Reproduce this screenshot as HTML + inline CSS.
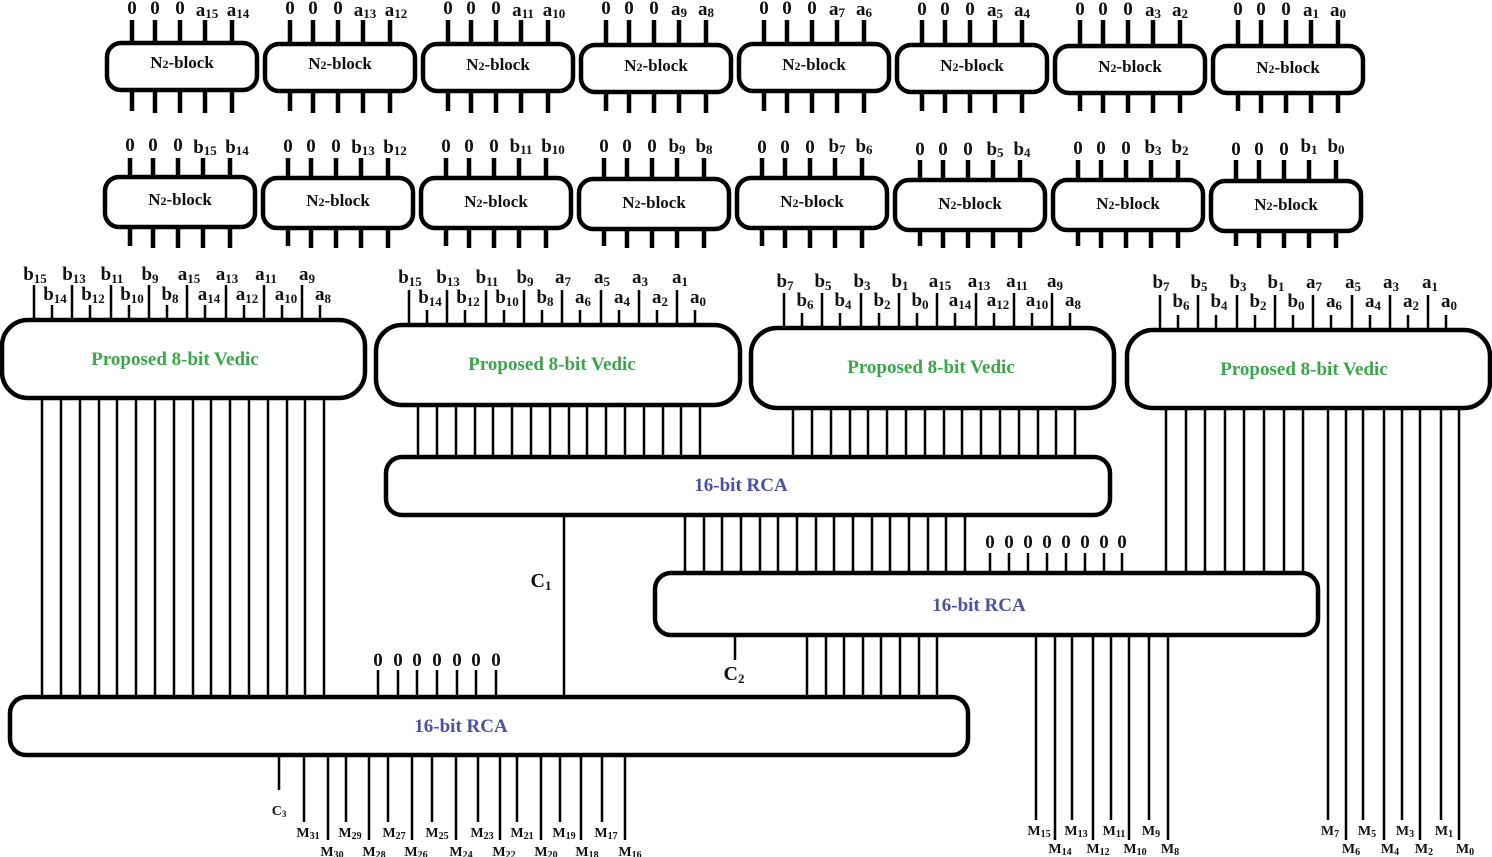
<!DOCTYPE html>
<html><head><meta charset="utf-8"><style>
html,body{margin:0;padding:0;background:#fff;}
svg{display:block;}
text{font-family:"Liberation Serif",serif;font-weight:bold;fill:#111;}
.g{fill:#3aa64a;font-size:19px;}
.bl{fill:#4a50a8;font-size:19px;}
.n{font-size:17px;}
.l{font-size:19px;text-anchor:middle;}
.m{font-size:14px;text-anchor:middle;}
</style></head><body>
<svg width="1492" height="857" viewBox="0 0 1492 857" xmlns="http://www.w3.org/2000/svg">
<g fill="none" stroke="#000">
<!-- N2 row 1 -->
<g stroke-width="4.5">
<rect x="107" y="43" width="150" height="47" rx="14"/><rect x="265" y="44" width="150" height="47" rx="14"/><rect x="423" y="44" width="150" height="47" rx="14"/><rect x="581" y="45" width="150" height="47" rx="14"/><rect x="739" y="44" width="150" height="47" rx="14"/><rect x="897" y="45" width="150" height="47" rx="14"/><rect x="1055" y="46" width="150" height="47" rx="14"/><rect x="1213" y="46" width="150" height="47" rx="14"/>
<rect x="105" y="177" width="150" height="50" rx="14"/><rect x="263" y="178" width="150" height="50" rx="14"/><rect x="421" y="178" width="150" height="50" rx="14"/><rect x="579" y="179" width="150" height="50" rx="14"/><rect x="737" y="178" width="150" height="50" rx="14"/><rect x="895" y="180" width="150" height="50" rx="14"/><rect x="1053" y="180" width="150" height="50" rx="14"/><rect x="1211" y="181" width="150" height="50" rx="14"/>
</g>
<g stroke-width="4.5">
<path d="M132 20V43M155 20V43M180 20V43M205 20V43M232 20V43 M290 20V44M313 20V44M338 20V44M363 20V44M390 20V44 M448 20V44M471 20V44M496 20V44M521 20V44M548 20V44 M606 20V45M629 20V45M654 20V45M679 20V45M706 20V45 M764 20V44M787 20V44M812 20V44M837 20V44M864 20V44 M922 20V45M945 20V45M970 20V45M995 20V45M1022 20V45 M1080 20V46M1103 20V46M1128 20V46M1153 20V46M1180 20V46 M1238 20V46M1261 20V46M1286 20V46M1311 20V46M1338 20V46"/>
<path d="M132 90V111M155 90V113M180 90V113M205 90V113M232 90V113 M290 91V111M313 91V113M338 91V113M363 91V113M390 91V113 M448 91V111M471 91V113M496 91V113M521 91V113M548 91V113 M606 92V111M629 92V113M654 92V113M679 92V113M706 92V113 M764 91V111M787 91V113M812 91V113M837 91V113M864 91V113 M922 92V111M945 92V113M970 92V113M995 92V113M1022 92V113 M1080 93V111M1103 93V113M1128 93V113M1153 93V113M1180 93V113 M1238 93V111M1261 93V113M1286 93V113M1311 93V113M1338 93V113"/>
<path d="M130 158V177M153 158V177M178 158V177M203 158V177M230 158V177 M288 158V178M311 158V178M336 158V178M361 158V178M388 158V178 M446 158V178M469 158V178M494 158V178M519 158V178M546 158V178 M604 158V179M627 158V179M652 158V179M677 158V179M704 158V179 M762 158V178M785 158V178M810 158V178M835 158V178M862 158V178 M920 160V180M943 160V180M968 160V180M993 160V180M1020 160V180 M1078 160V180M1101 160V180M1126 160V180M1151 160V180M1178 160V180 M1236 160V181M1259 160V181M1284 160V181M1309 160V181M1336 160V181"/>
<path d="M130 227V246M153 227V248M178 227V248M203 227V248M230 227V248 M288 228V246M311 228V248M336 228V248M361 228V248M388 228V248 M446 228V246M469 228V248M494 228V248M519 228V248M546 228V248 M604 229V246M627 229V248M652 229V248M677 229V248M704 229V248 M762 228V246M785 228V248M810 228V248M835 228V248M862 228V248 M920 230V246M943 230V248M968 230V248M993 230V248M1020 230V248 M1078 230V246M1101 230V248M1126 230V248M1151 230V248M1178 230V248 M1236 231V246M1259 231V248M1284 231V248M1309 231V248M1336 231V248"/>
</g>
<!-- Vedic blocks -->
<g stroke-width="4.5">
<rect x="2" y="320" width="363" height="78" rx="26"/>
<rect x="376" y="325" width="364" height="80" rx="26"/>
<rect x="751" y="328" width="363" height="80" rx="26"/>
<rect x="1127" y="330" width="363" height="78" rx="26"/>
<rect x="386" y="457" width="724" height="58" rx="16"/>
<rect x="655" y="573" width="663" height="62" rx="16"/>
<rect x="10" y="697" width="958" height="58" rx="16"/>
</g>
<g stroke-width="2.5">
<!-- vedic input pins -->
<path d="M34 285V320M72 285V320M111 285V320M149 285V320M187 285V320M226 285V320M264 285V320M302 285V320 M52 305V320M90 305V320M129 305V320M167 305V320M205 305V320M244 305V320M282 305V320M320 305V320"/>
<path d="M409 290V325M447 290V325M486 290V325M524 290V325M562 290V325M601 290V325M639 290V325M677 290V325 M427 310V325M465 310V325M504 310V325M542 310V325M580 310V325M619 310V325M657 310V325M695 310V325"/>
<path d="M784 293V328M822 293V328M861 293V328M899 293V328M937 293V328M976 293V328M1014 293V328M1052 293V328 M802 313V328M840 313V328M879 313V328M917 313V328M955 313V328M994 313V328M1032 313V328M1070 313V328"/>
<path d="M1160 295V330M1198 295V330M1237 295V330M1275 295V330M1313 295V330M1352 295V330M1390 295V330M1428 295V330 M1178 315V330M1216 315V330M1255 315V330M1293 315V330M1331 315V330M1370 315V330M1408 315V330M1446 315V330"/>
<!-- block1 outputs -->
<path d="M42 398V697M61 398V697M80 398V697M99 398V697M117 398V697M136 398V697M155 398V697M174 398V697M193 398V697M211 398V697M230 398V697M249 398V697M268 398V697M287 398V697M305 398V697M324 398V697"/>
<path d="M418 405V457M437 405V457M456 405V457M475 405V457M493 405V457M512 405V457M531 405V457M550 405V457M569 405V457M587 405V457M606 405V457M625 405V457M644 405V457M663 405V457M681 405V457M700 405V457"/>
<path d="M793 408V457M812 408V457M831 408V457M850 408V457M868 408V457M887 408V457M906 408V457M925 408V457M944 408V457M962 408V457M981 408V457M1000 408V457M1019 408V457M1038 408V457M1056 408V457M1075 408V457"/>
<path d="M1166 408V573M1186 408V573M1205 408V573M1225 408V573M1244 408V573M1264 408V573M1284 408V573M1303 408V573"/>
<path d="M1328 408V820M1346 408V840M1363 408V820M1384 408V840M1402 408V820M1420 408V840M1441 408V820M1459 408V840"/>
<path d="M685 515V573M704 515V573M722 515V573M741 515V573M760 515V573M778 515V573M797 515V573M816 515V573M834 515V573M853 515V573M872 515V573M890 515V573M909 515V573M928 515V573M946 515V573M965 515V573"/>
<path d="M990 553V573M1009 553V573M1028 553V573M1047 553V573M1066 553V573M1085 553V573M1104 553V573M1122 553V573"/>
<path d="M564 515V697M735 635V660"/>
<path d="M807 635V697M826 635V697M844 635V697M863 635V697M881 635V697M900 635V697M919 635V697M937 635V697"/>
<path d="M1036 635V820M1055 635V840M1072 635V820M1093 635V840M1111 635V820M1129 635V840M1149 635V820M1168 635V840"/>
<path d="M378 670V697M398 670V697M417 670V697M437 670V697M457 670V697M476 670V697M496 670V697"/>
<path d="M279 755V790M304 755V822M328 755V840M346 755V822M369 755V840M388 755V822M412 755V840M432 755V822M456 755V840M478 755V822M500 755V840M517 755V822M541 755V840M560 755V822M581 755V840M602 755V822M625 755V840"/>
</g>
</g>
<!-- N2 labels -->
<g class="n" text-anchor="middle">
<text x="182" y="68">N<tspan font-size="12">2</tspan>-block</text><text x="340" y="69">N<tspan font-size="12">2</tspan>-block</text><text x="498" y="70">N<tspan font-size="12">2</tspan>-block</text><text x="656" y="71">N<tspan font-size="12">2</tspan>-block</text><text x="814" y="70">N<tspan font-size="12">2</tspan>-block</text><text x="972" y="71">N<tspan font-size="12">2</tspan>-block</text><text x="1130" y="72">N<tspan font-size="12">2</tspan>-block</text><text x="1288" y="73">N<tspan font-size="12">2</tspan>-block</text>
<text x="180" y="205">N<tspan font-size="12">2</tspan>-block</text><text x="338" y="206">N<tspan font-size="12">2</tspan>-block</text><text x="496" y="207">N<tspan font-size="12">2</tspan>-block</text><text x="654" y="208">N<tspan font-size="12">2</tspan>-block</text><text x="812" y="207">N<tspan font-size="12">2</tspan>-block</text><text x="970" y="209">N<tspan font-size="12">2</tspan>-block</text><text x="1128" y="209">N<tspan font-size="12">2</tspan>-block</text><text x="1286" y="210">N<tspan font-size="12">2</tspan>-block</text>
</g>
<g class="l">
<text x="132" y="14">0</text><text x="155" y="14">0</text><text x="180" y="14">0</text><text x="207" y="16">a<tspan font-size="13" dy="2">15</tspan></text><text x="238" y="16">a<tspan font-size="13" dy="2">14</tspan></text>
<text x="290" y="14">0</text><text x="313" y="14">0</text><text x="338" y="14">0</text><text x="365" y="16">a<tspan font-size="13" dy="2">13</tspan></text><text x="396" y="16">a<tspan font-size="13" dy="2">12</tspan></text>
<text x="448" y="14">0</text><text x="471" y="14">0</text><text x="496" y="14">0</text><text x="523" y="16">a<tspan font-size="13" dy="2">11</tspan></text><text x="554" y="16">a<tspan font-size="13" dy="2">10</tspan></text>
<text x="606" y="14">0</text><text x="629" y="14">0</text><text x="654" y="14">0</text><text x="679" y="15">a<tspan font-size="13" dy="2">9</tspan></text><text x="706" y="15">a<tspan font-size="13" dy="2">8</tspan></text>
<text x="764" y="14">0</text><text x="787" y="14">0</text><text x="812" y="14">0</text><text x="837" y="15">a<tspan font-size="13" dy="2">7</tspan></text><text x="864" y="15">a<tspan font-size="13" dy="2">6</tspan></text>
<text x="922" y="15">0</text><text x="945" y="15">0</text><text x="970" y="15">0</text><text x="995" y="16">a<tspan font-size="13" dy="2">5</tspan></text><text x="1022" y="16">a<tspan font-size="13" dy="2">4</tspan></text>
<text x="1080" y="15">0</text><text x="1103" y="15">0</text><text x="1128" y="15">0</text><text x="1153" y="16">a<tspan font-size="13" dy="2">3</tspan></text><text x="1180" y="16">a<tspan font-size="13" dy="2">2</tspan></text>
<text x="1238" y="15">0</text><text x="1261" y="15">0</text><text x="1286" y="15">0</text><text x="1311" y="16">a<tspan font-size="13" dy="2">1</tspan></text><text x="1338" y="16">a<tspan font-size="13" dy="2">0</tspan></text>
<text x="130" y="151">0</text><text x="153" y="151">0</text><text x="178" y="151">0</text><text x="205" y="153">b<tspan font-size="13" dy="2">15</tspan></text><text x="237" y="153">b<tspan font-size="13" dy="2">14</tspan></text>
<text x="288" y="152">0</text><text x="311" y="152">0</text><text x="336" y="152">0</text><text x="363" y="153">b<tspan font-size="13" dy="2">13</tspan></text><text x="395" y="153">b<tspan font-size="13" dy="2">12</tspan></text>
<text x="446" y="152">0</text><text x="469" y="152">0</text><text x="494" y="152">0</text><text x="521" y="152">b<tspan font-size="13" dy="2">11</tspan></text><text x="553" y="152">b<tspan font-size="13" dy="2">10</tspan></text>
<text x="604" y="152">0</text><text x="627" y="152">0</text><text x="652" y="152">0</text><text x="677" y="152">b<tspan font-size="13" dy="2">9</tspan></text><text x="704" y="152">b<tspan font-size="13" dy="2">8</tspan></text>
<text x="762" y="153">0</text><text x="785" y="153">0</text><text x="810" y="153">0</text><text x="837" y="152">b<tspan font-size="13" dy="2">7</tspan></text><text x="864" y="152">b<tspan font-size="13" dy="2">6</tspan></text>
<text x="920" y="155">0</text><text x="943" y="155">0</text><text x="968" y="155">0</text><text x="995" y="155">b<tspan font-size="13" dy="2">5</tspan></text><text x="1022" y="155">b<tspan font-size="13" dy="2">4</tspan></text>
<text x="1078" y="154">0</text><text x="1101" y="154">0</text><text x="1126" y="154">0</text><text x="1153" y="153">b<tspan font-size="13" dy="2">3</tspan></text><text x="1180" y="153">b<tspan font-size="13" dy="2">2</tspan></text>
<text x="1236" y="155">0</text><text x="1259" y="155">0</text><text x="1284" y="155">0</text><text x="1309" y="152">b<tspan font-size="13" dy="2">1</tspan></text><text x="1336" y="152">b<tspan font-size="13" dy="2">0</tspan></text>
</g>
<!-- Vedic input labels -->
<g class="l">
<text x="35" y="280">b<tspan font-size="13" dy="3">15</tspan></text><text x="74" y="280">b<tspan font-size="13" dy="3">13</tspan></text><text x="112" y="280">b<tspan font-size="13" dy="3">11</tspan></text><text x="150" y="280">b<tspan font-size="13" dy="3">9</tspan></text><text x="189" y="280">a<tspan font-size="13" dy="3">15</tspan></text><text x="227" y="280">a<tspan font-size="13" dy="3">13</tspan></text><text x="266" y="280">a<tspan font-size="13" dy="3">11</tspan></text><text x="307" y="280">a<tspan font-size="13" dy="3">9</tspan></text>
<text x="55" y="300">b<tspan font-size="13" dy="3">14</tspan></text><text x="93" y="300">b<tspan font-size="13" dy="3">12</tspan></text><text x="132" y="300">b<tspan font-size="13" dy="3">10</tspan></text><text x="170" y="300">b<tspan font-size="13" dy="3">8</tspan></text><text x="209" y="300">a<tspan font-size="13" dy="3">14</tspan></text><text x="247" y="300">a<tspan font-size="13" dy="3">12</tspan></text><text x="286" y="300">a<tspan font-size="13" dy="3">10</tspan></text><text x="323" y="300">a<tspan font-size="13" dy="3">8</tspan></text>
<text x="410" y="283">b<tspan font-size="13" dy="3">15</tspan></text><text x="448" y="283">b<tspan font-size="13" dy="3">13</tspan></text><text x="487" y="283">b<tspan font-size="13" dy="3">11</tspan></text><text x="525" y="283">b<tspan font-size="13" dy="3">9</tspan></text><text x="563" y="283">a<tspan font-size="13" dy="3">7</tspan></text><text x="602" y="283">a<tspan font-size="13" dy="3">5</tspan></text><text x="640" y="283">a<tspan font-size="13" dy="3">3</tspan></text><text x="680" y="283">a<tspan font-size="13" dy="3">1</tspan></text>
<text x="430" y="303">b<tspan font-size="13" dy="3">14</tspan></text><text x="468" y="303">b<tspan font-size="13" dy="3">12</tspan></text><text x="507" y="303">b<tspan font-size="13" dy="3">10</tspan></text><text x="545" y="303">b<tspan font-size="13" dy="3">8</tspan></text><text x="583" y="303">a<tspan font-size="13" dy="3">6</tspan></text><text x="622" y="303">a<tspan font-size="13" dy="3">4</tspan></text><text x="660" y="303">a<tspan font-size="13" dy="3">2</tspan></text><text x="698" y="303">a<tspan font-size="13" dy="3">0</tspan></text>
<text x="785" y="287">b<tspan font-size="13" dy="3">7</tspan></text><text x="823" y="287">b<tspan font-size="13" dy="3">5</tspan></text><text x="862" y="287">b<tspan font-size="13" dy="3">3</tspan></text><text x="900" y="287">b<tspan font-size="13" dy="3">1</tspan></text><text x="940" y="287">a<tspan font-size="13" dy="3">15</tspan></text><text x="979" y="287">a<tspan font-size="13" dy="3">13</tspan></text><text x="1017" y="287">a<tspan font-size="13" dy="3">11</tspan></text><text x="1055" y="287">a<tspan font-size="13" dy="3">9</tspan></text>
<text x="805" y="306">b<tspan font-size="13" dy="3">6</tspan></text><text x="843" y="306">b<tspan font-size="13" dy="3">4</tspan></text><text x="882" y="306">b<tspan font-size="13" dy="3">2</tspan></text><text x="920" y="306">b<tspan font-size="13" dy="3">0</tspan></text><text x="960" y="306">a<tspan font-size="13" dy="3">14</tspan></text><text x="998" y="306">a<tspan font-size="13" dy="3">12</tspan></text><text x="1037" y="306">a<tspan font-size="13" dy="3">10</tspan></text><text x="1073" y="306">a<tspan font-size="13" dy="3">8</tspan></text>
<text x="1161" y="288">b<tspan font-size="13" dy="3">7</tspan></text><text x="1199" y="288">b<tspan font-size="13" dy="3">5</tspan></text><text x="1238" y="288">b<tspan font-size="13" dy="3">3</tspan></text><text x="1276" y="288">b<tspan font-size="13" dy="3">1</tspan></text><text x="1314" y="288">a<tspan font-size="13" dy="3">7</tspan></text><text x="1353" y="288">a<tspan font-size="13" dy="3">5</tspan></text><text x="1391" y="288">a<tspan font-size="13" dy="3">3</tspan></text><text x="1430" y="288">a<tspan font-size="13" dy="3">1</tspan></text>
<text x="1181" y="307">b<tspan font-size="13" dy="3">6</tspan></text><text x="1219" y="307">b<tspan font-size="13" dy="3">4</tspan></text><text x="1258" y="307">b<tspan font-size="13" dy="3">2</tspan></text><text x="1296" y="307">b<tspan font-size="13" dy="3">0</tspan></text><text x="1334" y="307">a<tspan font-size="13" dy="3">6</tspan></text><text x="1373" y="307">a<tspan font-size="13" dy="3">4</tspan></text><text x="1411" y="307">a<tspan font-size="13" dy="3">2</tspan></text><text x="1449" y="307">a<tspan font-size="13" dy="3">0</tspan></text>
</g>
<g text-anchor="middle">
<text class="g" x="175" y="365">Proposed 8-bit Vedic</text>
<text class="g" x="552" y="370">Proposed 8-bit Vedic</text>
<text class="g" x="931" y="373">Proposed 8-bit Vedic</text>
<text class="g" x="1304" y="375">Proposed 8-bit Vedic</text>
<text class="bl" x="741" y="491">16-bit RCA</text>
<text class="bl" x="979" y="611">16-bit RCA</text>
<text class="bl" x="461" y="732">16-bit RCA</text>
</g>
<g class="l">
<text x="990" y="548">0</text><text x="1009" y="548">0</text><text x="1028" y="548">0</text><text x="1047" y="548">0</text><text x="1066" y="548">0</text><text x="1085" y="548">0</text><text x="1104" y="548">0</text><text x="1122" y="548">0</text>
<text x="378" y="666">0</text><text x="398" y="666">0</text><text x="417" y="666">0</text><text x="437" y="666">0</text><text x="457" y="666">0</text><text x="476" y="666">0</text><text x="496" y="666">0</text>
<text x="541" y="587" font-size="20">C<tspan font-size="13" dy="3">1</tspan></text>
<text x="734" y="680" font-size="20">C<tspan font-size="13" dy="3">2</tspan></text>
</g>
<g class="m">
<text x="279" y="815">C<tspan font-size="9" dy="2">3</tspan></text>
<text x="308" y="837">M<tspan font-size="10" dy="2">31</tspan></text><text x="332" y="856">M<tspan font-size="10" dy="2">30</tspan></text><text x="350" y="837">M<tspan font-size="10" dy="2">29</tspan></text><text x="374" y="856">M<tspan font-size="10" dy="2">28</tspan></text><text x="394" y="837">M<tspan font-size="10" dy="2">27</tspan></text><text x="416" y="856">M<tspan font-size="10" dy="2">26</tspan></text><text x="437" y="837">M<tspan font-size="10" dy="2">25</tspan></text><text x="461" y="856">M<tspan font-size="10" dy="2">24</tspan></text><text x="482" y="837">M<tspan font-size="10" dy="2">23</tspan></text><text x="504" y="856">M<tspan font-size="10" dy="2">22</tspan></text><text x="522" y="837">M<tspan font-size="10" dy="2">21</tspan></text><text x="546" y="856">M<tspan font-size="10" dy="2">20</tspan></text><text x="564" y="837">M<tspan font-size="10" dy="2">19</tspan></text><text x="587" y="856">M<tspan font-size="10" dy="2">18</tspan></text><text x="606" y="837">M<tspan font-size="10" dy="2">17</tspan></text><text x="630" y="856">M<tspan font-size="10" dy="2">16</tspan></text>
<text x="1039" y="835">M<tspan font-size="10" dy="2">15</tspan></text><text x="1060" y="853">M<tspan font-size="10" dy="2">14</tspan></text><text x="1076" y="835">M<tspan font-size="10" dy="2">13</tspan></text><text x="1098" y="853">M<tspan font-size="10" dy="2">12</tspan></text><text x="1114" y="835">M<tspan font-size="10" dy="2">11</tspan></text><text x="1135" y="853">M<tspan font-size="10" dy="2">10</tspan></text><text x="1151" y="835">M<tspan font-size="10" dy="2">9</tspan></text><text x="1170" y="853">M<tspan font-size="10" dy="2">8</tspan></text>
<text x="1330" y="835">M<tspan font-size="10" dy="2">7</tspan></text><text x="1351" y="853">M<tspan font-size="10" dy="2">6</tspan></text><text x="1367" y="835">M<tspan font-size="10" dy="2">5</tspan></text><text x="1390" y="853">M<tspan font-size="10" dy="2">4</tspan></text><text x="1405" y="835">M<tspan font-size="10" dy="2">3</tspan></text><text x="1424" y="853">M<tspan font-size="10" dy="2">2</tspan></text><text x="1444" y="835">M<tspan font-size="10" dy="2">1</tspan></text><text x="1465" y="853">M<tspan font-size="10" dy="2">0</tspan></text>
</g>
</svg>
</body></html>
